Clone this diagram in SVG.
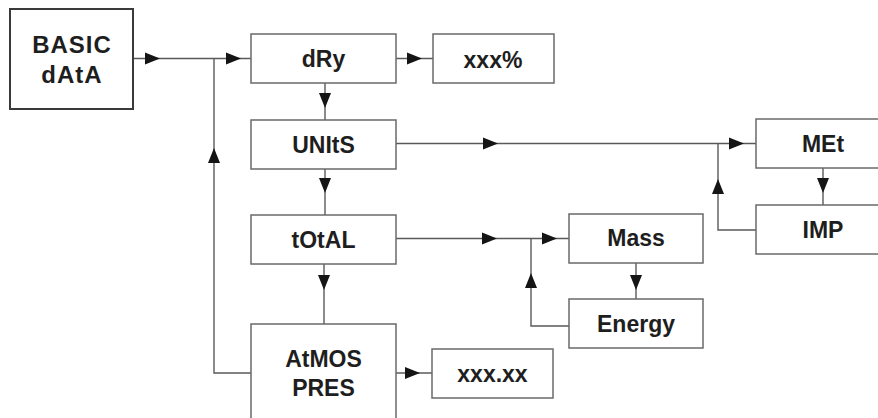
<svg xmlns="http://www.w3.org/2000/svg" width="878" height="418" viewBox="0 0 878 418">
<style>
.box{fill:#fff;stroke:#6a6a6a;stroke-width:1.5}
.main{fill:#fff;stroke:#3a3a3a;stroke-width:2}
.t{font-family:"Liberation Sans",Arial,sans-serif;font-weight:bold;font-size:23px;fill:#1e1e1e;text-anchor:middle}
.big{font-size:24px;letter-spacing:1px}
.ln{fill:none;stroke:#5a5a5a;stroke-width:1.4}
.ah{fill:#151515}
</style>
<defs>
<path id="a" d="M0,0 L-15,-6 L-15,6 Z"/>
</defs>
<rect width="878" height="418" fill="#fff"/>
<g id="connectors">
<path class="ln" d="M133,58.5 H251"/>
<path class="ln" d="M396,58.5 H433"/>
<path class="ln" d="M325,83 V120"/>
<path class="ln" d="M396,143.5 H756"/>
<path class="ln" d="M756,230 H718 V143.5"/>
<path class="ln" d="M823,168 V205"/>
<path class="ln" d="M325,169 V215"/>
<path class="ln" d="M396,238.5 H569"/>
<path class="ln" d="M569,326 H531 V238.5"/>
<path class="ln" d="M636,263 V299"/>
<path class="ln" d="M324,264 V324"/>
<path class="ln" d="M396,373 H432"/>
<path class="ln" d="M251,373 H214 V58.5"/>
<g class="ah">
<use href="#a" transform="translate(160,58.5)"/>
<use href="#a" transform="translate(241,58.5)"/>
<use href="#a" transform="translate(422,58.5)"/>
<use href="#a" transform="translate(325,108) rotate(90)"/>
<use href="#a" transform="translate(498,143.5)"/>
<use href="#a" transform="translate(744,143.5)"/>
<use href="#a" transform="translate(718,179) rotate(-90)"/>
<use href="#a" transform="translate(823,193) rotate(90)"/>
<use href="#a" transform="translate(325,193) rotate(90)"/>
<use href="#a" transform="translate(497,238.5)"/>
<use href="#a" transform="translate(557,238.5)"/>
<use href="#a" transform="translate(531,273) rotate(-90)"/>
<use href="#a" transform="translate(636,290) rotate(90)"/>
<use href="#a" transform="translate(324,290) rotate(90)"/>
<use href="#a" transform="translate(420,373)"/>
<use href="#a" transform="translate(214,148) rotate(-90)"/>
</g>
</g>
<g id="basic"><rect class="main" x="10" y="9" width="123" height="100"/><text class="t big" x="72" y="53">BASIC</text><text class="t big" x="72" y="83">dAtA</text></g>
<g id="dry"><rect class="box" x="251" y="34" width="145" height="49"/><text class="t" x="323.5" y="67">dRy</text></g>
<g id="xxxpct"><rect class="box" x="433" y="34" width="121" height="49"/><text class="t" x="493" y="67.5">xxx%</text></g>
<g id="units"><rect class="box" x="251" y="120" width="145" height="49"/><text class="t" x="323.5" y="153">UNItS</text></g>
<g id="met"><rect class="box" x="756" y="119" width="140" height="49"/><text class="t" x="823" y="152">MEt</text></g>
<g id="imp"><rect class="box" x="756" y="205" width="140" height="49"/><text class="t" x="823" y="237.5">IMP</text></g>
<g id="total"><rect class="box" x="251" y="215" width="145" height="49"/><text class="t" x="323.5" y="248">tOtAL</text></g>
<g id="mass"><rect class="box" x="569" y="214" width="134" height="49"/><text class="t" x="636" y="246">Mass</text></g>
<g id="energy"><rect class="box" x="569" y="299" width="134" height="49"/><text class="t" x="636" y="332">Energy</text></g>
<g id="atmos"><rect class="box" x="251" y="324" width="145" height="110"/><text class="t" x="323.5" y="367">AtMOS</text><text class="t" x="323.5" y="396">PRES</text></g>
<g id="xxxxx"><rect class="box" x="432" y="349" width="121" height="49"/><text class="t" x="492.5" y="382">xxx.xx</text></g>
</svg>
